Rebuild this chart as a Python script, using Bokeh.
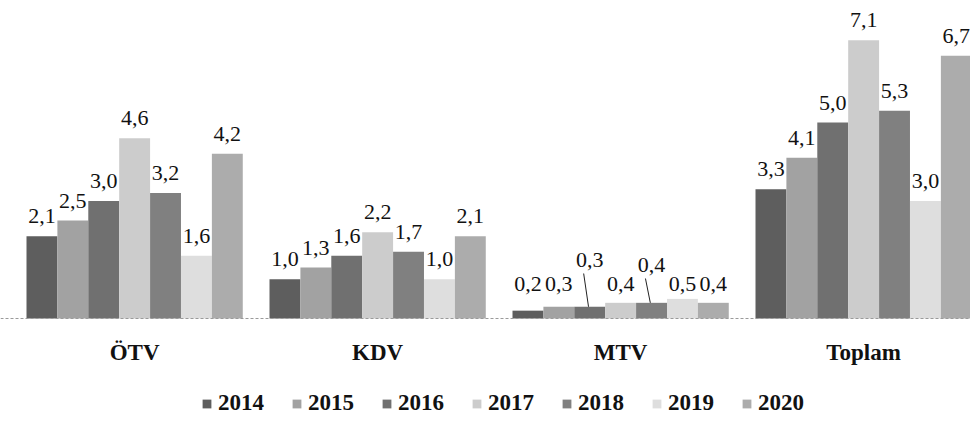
from bokeh.plotting import figure
from bokeh.models import Range1d, Legend, LegendItem, ColumnDataSource, Span
from bokeh.core.properties import value
from bokeh.embed import file_html
from bokeh.resources import INLINE

# ---- data ----
categories = ["ÖTV", "KDV", "MTV", "Toplam"]
years = ["2014", "2015", "2016", "2017", "2018", "2019", "2020"]
otv = [2.1, 2.5, 3.0, 4.6, 3.2, 1.6, 4.2]
kdv = [1.0, 1.3, 1.6, 2.2, 1.7, 1.0, 2.1]
mtv = [0.2, 0.3, 0.3, 0.4, 0.4, 0.5, 0.4]
toplam = [3.3, 4.1, 5.0, 7.1, 5.3, 3.0, 6.7]
series = [otv, kdv, mtv, toplam]

# ---- styles ----
colors = ["#5e5e5e", "#a2a2a2", "#707070", "#cccccc", "#808080", "#dedede", "#acacac"]
FONT = "Liberation Serif"
VALUE_FONT = "'Liberation Serif', 'Times New Roman', serif"
W, H = 970, 420
BASE_PX = 318                  # baseline, px from top of canvas
PX = 39.2                      # pixels per unit
Y_MAX = BASE_PX / PX
Y_MIN = -(H - BASE_PX) / PX
GROUP_W = 0.89
BW = GROUP_W / len(years)
LABEL_PX = 20                  # label centre above bar top
CAT_PX = 34                    # category label centre below baseline
# MTV labels were placed by hand in the original (centre height above baseline, px)
MTV_LABEL_PX = [35, 35, 59, 35, 54, 35, 35]
MTV_LEADER = [False, False, True, False, True, False, False]
MTV_GROUP = 2

p = figure(width=W, height=H, x_range=Range1d(-0.552, -0.552 + W / 243.0),
           y_range=Range1d(Y_MIN, Y_MAX),
           output_backend="svg", toolbar_location=None,
           x_axis_location=None, y_axis_location=None,
           min_border_left=0, min_border_right=0, min_border_top=0, min_border_bottom=0)
p.grid.visible = False
p.outline_line_color = None
p.background_fill_color = "white"
p.border_fill_color = "white"

def fmt(v):
    return f"{v:.1f}".replace(".", ",")

# baseline (category axis line)
p.add_layout(Span(location=0, dimension="width", line_color="#9a9a9a",
                  line_width=1, line_dash="3 2"))

items = []
lx, ly, lt = [], [], []
seg = {"x0": [], "y0": [], "x1": [], "y1": []}
for j, yr in enumerate(years):
    xs = [g + (j - (len(years) - 1) / 2) * BW for g in range(len(categories))]
    tops = [s[j] for s in series]
    src = ColumnDataSource(dict(x=xs, top=tops))
    r = p.vbar(x="x", top="top", width=BW, bottom=0, source=src,
               fill_color=colors[j], line_color=None)
    items.append(LegendItem(label=yr, renderers=[r]))
    for g in range(len(categories)):
        v = tops[g]
        if g == MTV_GROUP:
            yc = MTV_LABEL_PX[j] / PX
            if MTV_LEADER[j]:
                seg["x0"].append(xs[g] - 0.005)
                seg["y0"].append(v)
                seg["x1"].append(xs[g] - 0.025)
                seg["y1"].append((MTV_LABEL_PX[j] - 14) / PX)
        else:
            yc = v + LABEL_PX / PX
        lx.append(xs[g]); ly.append(yc); lt.append(fmt(v))

p.text(x=lx, y=ly, text=lt, text_align="center", text_baseline="middle",
       text_font=value(VALUE_FONT), text_font_size="22px",
       text_color="#111111")
p.segment(x0=seg["x0"], y0=seg["y0"], x1=seg["x1"], y1=seg["y1"],
          line_color="#222222", line_width=1)

# category labels under the baseline
p.text(x=list(range(len(categories))), y=[0] * len(categories), text=categories,
       y_offset=CAT_PX, text_align="center", text_baseline="middle",
       text_font=value(FONT), text_font_size="23px", text_font_style="bold",
       text_color="#111111")

legend = Legend(items=items, orientation="horizontal", location=(201, 4),
                padding=0, margin=0, spacing=27, glyph_width=11, glyph_height=11,
                label_standoff=6, label_text_font=FONT, label_text_font_size="23px",
                label_text_font_style="bold", label_text_color="#111111",
                border_line_color=None, background_fill_alpha=0)
p.add_layout(legend)

open("out.html", "w").write(file_html(p, INLINE))
